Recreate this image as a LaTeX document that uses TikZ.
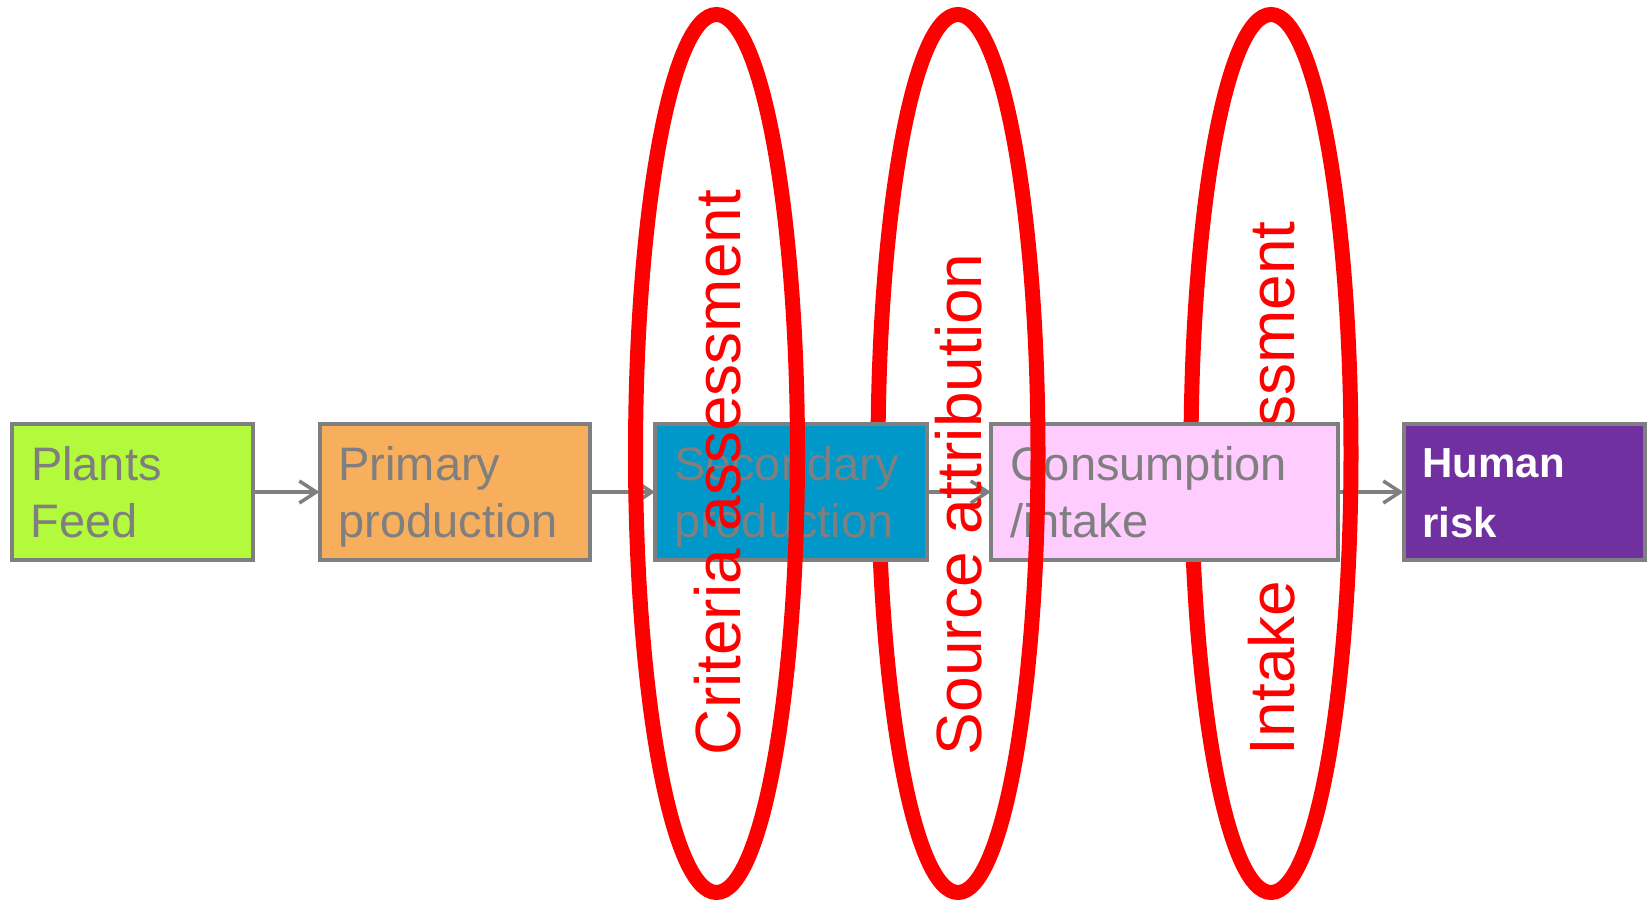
\documentclass[tikz,border=0pt]{standalone}
\usepackage{fontspec}
\setmainfont{Liberation Sans}
\usetikzlibrary{arrows.meta}
\definecolor{cgray}{HTML}{7F7F7F}
\definecolor{clime}{HTML}{B3FA3C}
\definecolor{corange}{HTML}{F8AF5D}
\definecolor{cblue}{HTML}{0097C9}
\definecolor{cpink}{HTML}{FFCCFF}
\definecolor{cpurple}{HTML}{7030A0}
\definecolor{cred}{HTML}{FF0000}
\pgfdeclarelayer{layA}
\pgfdeclarelayer{layB}
\pgfdeclarelayer{layC}
\pgfdeclarelayer{layD}
\pgfdeclarelayer{layE}
\pgfsetlayers{layA,layB,layC,layD,layE,main}
\newcommand{\bxtxt}[3]{\parbox[c][68pt][t]{#1}{\raggedright\leftskip=9.5pt\relax\rule{0pt}{#2}#3}}
\tikzset{
  procbox/.style={draw=cgray, line width=2pt, inner sep=0pt, outer sep=0pt, anchor=north west, text=cgray, font=\fontsize{23.5}{28.5}\selectfont},
  arr/.style={draw=cgray, line width=1.75pt, -{Straight Barb[length=8.5pt,width=11pt]}},
  redoval/.style={draw=cred, line width=7.5pt},
  vlabel/.style={text=cred, rotate=90, anchor=base west, inner sep=0pt, font=\fontsize{32}{38}\selectfont},
}
\begin{document}
\begin{tikzpicture}[x=0.5pt,y=-0.5pt]
\useasboundingbox (0,0) rectangle (1650,900);
\begin{pgfonlayer}{layA}
\node[procbox, fill=clime] (b1) at (12,424) {\bxtxt{120.5pt}{28pt}{Plants\\Feed}};
\node[procbox, fill=corange] (b2) at (319.5,424) {\bxtxt{135.3pt}{28pt}{Primary\\production}};
\node[procbox, fill=cpurple, text=white, font=\fontsize{21}{30}\selectfont\bfseries] (b5) at (1403.5,424) {\bxtxt{120.6pt}{26.7pt}{Human\\risk}};
\end{pgfonlayer}
\begin{pgfonlayer}{layB}
\draw[redoval] (1271,453.5) ellipse [x radius=40pt, y radius=219.5pt];
\node[vlabel] (t3) at (1294.5,755.5) {Intake assessment};
\end{pgfonlayer}
\begin{pgfonlayer}{layC}
\node[procbox, fill=cpink] (b4) at (991,424) {\bxtxt{173.5pt}{28pt}{Consumption\\/intake}};
\end{pgfonlayer}
\begin{pgfonlayer}{layD}
\draw[redoval] (958,453.5) ellipse [x radius=40pt, y radius=219.5pt];
\node[vlabel] (t2) at (981.5,755.5) {Source attribution};
\end{pgfonlayer}
\begin{pgfonlayer}{layE}
\node[procbox, fill=cblue] (b3) at (655,424) {\bxtxt{135.8pt}{28pt}{Secondary\\production}};
\end{pgfonlayer}
\draw[redoval] (716.5,453.5) ellipse [x radius=40.5pt, y radius=219.5pt];
\node[vlabel] (t1) at (740,755.5) {Criteria assessment};
\begin{pgfonlayer}{layA}
\draw[arr] (b1.east) -- (b2.west);
\draw[arr] (b2.east) -- (b3.west);
\draw[arr] (b3.east) -- (b4.west);
\draw[arr] (b4.east) -- (b5.west);
\end{pgfonlayer}
\end{tikzpicture}
\end{document}
